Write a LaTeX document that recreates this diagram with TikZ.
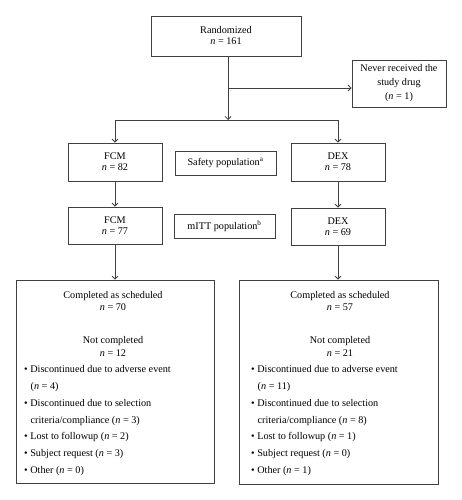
\documentclass[tikz,border=0pt]{standalone}
\usepackage{fontspec}
\setmainfont{Liberation Serif}
\usetikzlibrary{arrows.meta}
\begin{document}
\begin{tikzpicture}[x=1pt,y=-1pt,
  box/.style={draw=black!75, line width=0.8pt, align=center, inner sep=0pt, font=\fontsize{10.2}{11}\selectfont},
  arr/.style={draw=black!75, line width=0.8pt, -{Straight Barb[length=3pt,width=6pt]}},
  ln/.style={draw=black!75, line width=0.8pt},
  txt/.style={inner sep=0pt, font=\fontsize{10.2}{12}\selectfont}]
\useasboundingbox (0,0) rectangle (462,500);
% boxes
\node[box, minimum width=150pt, minimum height=40pt] (rand) at (226,36) {Randomized\\\textit{n} = 161};
\node[box, minimum width=94pt, minimum height=47pt, font=\fontsize{10.2}{14}\selectfont] (never) at (399,83.5) {Never received the\\study drug\\(\textit{n} = 1)};
\node[box, minimum width=94pt, minimum height=38pt] (fcm1) at (115,162) {FCM\\\textit{n} = 82};
\node[box, minimum width=101pt, minimum height=24pt] (safety) at (225.5,163) {Safety population\textsuperscript{a}};
\node[box, minimum width=94pt, minimum height=38pt] (dex1) at (338,162) {DEX\\\textit{n} = 78};
\node[box, minimum width=94pt, minimum height=37pt] (fcm2) at (115,225.5) {FCM\\\textit{n} = 77};
\node[box, minimum width=101pt, minimum height=24pt] (mitt) at (224.5,226) {mITT population\textsuperscript{b}};
\node[box, minimum width=94pt, minimum height=37pt] (dex2) at (338,226.5) {DEX\\\textit{n} = 69};
\node[box, minimum width=198pt, minimum height=203pt] (lbox) at (115,381.5) {};
\node[box, minimum width=199pt, minimum height=204pt] (rbox) at (338.5,382) {};
% connectors
\coordinate (j) at (228,120);
\coordinate (b) at (228,88);
\coordinate (jl) at (fcm1.north |- j);
\coordinate (jr) at (dex1.north |- j);
\draw[arr] (rand.south -| j) -- (j);
\draw[arr] (b) -- (never.west |- b);
\draw[ln] (jl) -- (jr);
\draw[arr] (jl) -- (fcm1.north);
\draw[arr] (jr) -- (dex1.north);
\draw[arr] (fcm1.south) -- (fcm2.north);
\draw[arr] (dex1.south) -- (dex2.north);
\draw[arr] (fcm2.south) -- (fcm2.south |- lbox.north);
\draw[arr] (dex2.south) -- (dex2.south |- rbox.north);
% left box text
\node[txt, anchor=base] (lc) at (113,298) {Completed as scheduled};
\node[txt, anchor=base] (lcn) at (113,310.5) {\textit{n} = 70};
\node[txt, anchor=base] (lnc) at (113,343) {Not completed};
\node[txt, anchor=base] (lncn) at (113,356.5) {\textit{n} = 12};
\node[txt, anchor=base west] (l1) at (24,372) {\textbullet{} Discontinued due to adverse event};
\node[txt, anchor=base west] (l1b) at (30.5,389) {(\textit{n} = 4)};
\node[txt, anchor=base west] (l2) at (24,406) {\textbullet{} Discontinued due to selection};
\node[txt, anchor=base west] (l2b) at (30.5,423) {criteria/compliance (\textit{n} = 3)};
\node[txt, anchor=base west] (l3) at (24,439.5) {\textbullet{} Lost to followup (\textit{n} = 2)};
\node[txt, anchor=base west] (l4) at (24,456.5) {\textbullet{} Subject request (\textit{n} = 3)};
\node[txt, anchor=base west] (l5) at (24,473.5) {\textbullet{} Other (\textit{n} = 0)};
% right box text
\node[txt, anchor=base] (rc) at (340,298) {Completed as scheduled};
\node[txt, anchor=base] (rcn) at (340,310.5) {\textit{n} = 57};
\node[txt, anchor=base] (rnc) at (340,343) {Not completed};
\node[txt, anchor=base] (rncn) at (340,356.5) {\textit{n} = 21};
\node[txt, anchor=base west] (r1) at (251,372) {\textbullet{} Discontinued due to adverse event};
\node[txt, anchor=base west] (r1b) at (257.5,389) {(\textit{n} = 11)};
\node[txt, anchor=base west] (r2) at (251,406) {\textbullet{} Discontinued due to selection};
\node[txt, anchor=base west] (r2b) at (257.5,423) {criteria/compliance (\textit{n} = 8)};
\node[txt, anchor=base west] (r3) at (251,439.5) {\textbullet{} Lost to followup (\textit{n} = 1)};
\node[txt, anchor=base west] (r4) at (251,456.5) {\textbullet{} Subject request (\textit{n} = 0)};
\node[txt, anchor=base west] (r5) at (251,473.5) {\textbullet{} Other (\textit{n} = 1)};
\end{tikzpicture}
\end{document}
